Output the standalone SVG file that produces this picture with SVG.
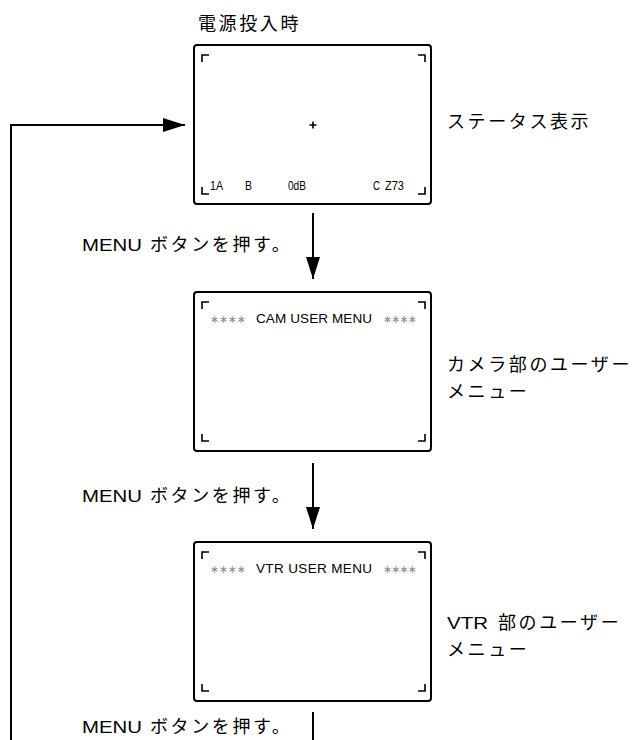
<svg xmlns="http://www.w3.org/2000/svg" width="637" height="740" viewBox="0 0 637 740">
<style>
.box{fill:#fff;stroke:#000;stroke-width:2}
.cm{fill:none;stroke:#000;stroke-width:1.6}
.jp{font-family:"Noto Sans CJK JP","Noto Sans",sans-serif;font-size:18px;letter-spacing:2.6px;fill:#000}
.lat{font-family:"Liberation Sans","Noto Sans",sans-serif;font-size:17px;letter-spacing:0;fill:#000}
.scr{font-family:"Liberation Sans",sans-serif;font-size:13px;fill:#000}
.hdr{font-family:"Liberation Sans",sans-serif;font-size:13.5px;fill:#000}
.ast{font-family:"DejaVu Sans",sans-serif;font-size:11px;fill:#888}
.ln{fill:none;stroke:#000;stroke-width:2}
</style>
<defs>
<marker id="ah" markerUnits="userSpaceOnUse" markerWidth="22" markerHeight="14" refX="22" refY="7" orient="auto">
<path d="M0,0 L22,7 L0,14 Z" fill="#000"/>
</marker>
<path id="corners" class="cm" d="M202,62 V55 H209 M418,55 H425 V62 M202,187 V194 H209 M418,194 H425 V187"/>
</defs>

<text class="jp" x="198" y="30">電源投入時</text>

<g id="status">
<rect class="box" x="194" y="45" width="237" height="159" rx="3"/>
<use href="#corners"/>
<path class="cm" d="M309.5,125 H316.5 M313,121.5 V128.5" stroke-width="1.2"/>
<text class="scr" x="210" y="190" textLength="13" lengthAdjust="spacingAndGlyphs">1A</text>
<text class="scr" x="245" y="190" textLength="7" lengthAdjust="spacingAndGlyphs">B</text>
<text class="scr" x="288" y="190" textLength="18" lengthAdjust="spacingAndGlyphs">0dB</text>
<text class="scr" x="373" y="190" textLength="7" lengthAdjust="spacingAndGlyphs">C</text>
<text class="scr" x="385" y="190" textLength="19" lengthAdjust="spacingAndGlyphs">Z73</text>
</g>
<text class="jp" x="447" y="128">ステータス表示</text>

<g id="cam-menu">
<rect class="box" x="194" y="292" width="237" height="159" rx="3"/>
<use href="#corners" transform="translate(0,247)"/>
<text class="ast" x="210" y="323" textLength="36" lengthAdjust="spacing">∗∗∗∗</text>
<text class="hdr" x="256" y="323" textLength="116" lengthAdjust="spacing">CAM USER MENU</text>
<text class="ast" x="383" y="323" textLength="34" lengthAdjust="spacing">∗∗∗∗</text>
</g>
<text class="jp" x="447" y="371">カメラ部のユーザー<tspan x="447" dy="26.5">メニュー</tspan></text>

<g id="vtr-menu">
<rect class="box" x="194" y="542" width="237" height="159" rx="3"/>
<use href="#corners" transform="translate(0,497)"/>
<text class="ast" x="210" y="573" textLength="36" lengthAdjust="spacing">∗∗∗∗</text>
<text class="hdr" x="256" y="573" textLength="116" lengthAdjust="spacing">VTR USER MENU</text>
<text class="ast" x="383" y="573" textLength="34" lengthAdjust="spacing">∗∗∗∗</text>
</g>
<text class="jp" x="447" y="629"><tspan class="lat" textLength="41" lengthAdjust="spacingAndGlyphs">VTR</tspan><tspan x="498">部のユーザー</tspan><tspan x="447" dy="26.5">メニュー</tspan></text>

<g id="labels">
<text class="jp" x="82" y="251"><tspan class="lat" textLength="60" lengthAdjust="spacingAndGlyphs">MENU</tspan><tspan x="150">ボタンを押す。</tspan></text>
<text class="jp" x="82" y="502"><tspan class="lat" textLength="60" lengthAdjust="spacingAndGlyphs">MENU</tspan><tspan x="150">ボタンを押す。</tspan></text>
<text class="jp" x="82" y="733"><tspan class="lat" textLength="60" lengthAdjust="spacingAndGlyphs">MENU</tspan><tspan x="150">ボタンを押す。</tspan></text>
</g>

<g id="connectors">
<path class="ln" d="M313,213 V279" marker-end="url(#ah)"/>
<path class="ln" d="M313,463 V529" marker-end="url(#ah)"/>
<path class="ln" d="M313,712 V740"/>
<path class="ln" d="M11,740 V125 H185" marker-end="url(#ah)"/>
</g>
</svg>
